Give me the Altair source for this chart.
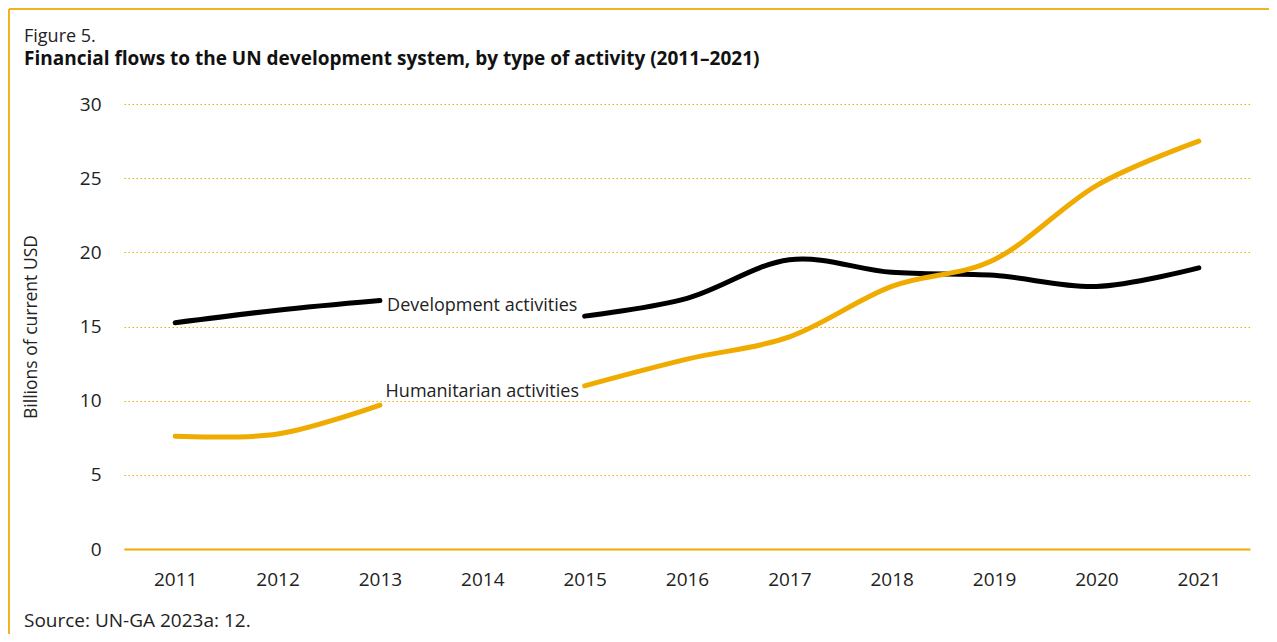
import altair as alt
import pandas as pd

years = [str(y) for y in range(2011, 2022)]
development = [15.25, 16.1, 16.75, None, 15.7, 16.9, 19.5, 18.65, 18.45, 17.7, 18.95]
humanitarian = [7.6, 7.75, 9.7, None, 11.0, 12.8, 14.3, 17.7, 19.5, 24.5, 27.5]
series_names = ["Development activities", "Humanitarian activities"]
label_year = ["2014", "2014"]
label_value = [16.4, 10.6]
figure_label = "Figure 5."
figure_title = "Financial flows to the UN development system, by type of activity (2011\u20132021)"
source_note = "Source: UN-GA 2023a: 12."

ORANGE = "#F0AB00"
W, H = 1126, 445
FS = 18
TICK_FS = 19

rows = []
for name, vals in zip(series_names, [development, humanitarian]):
    for y, v in zip(years, vals):
        rows.append({"year": y, "value": v, "series": name})
df = pd.DataFrame(rows)
labels_df = pd.DataFrame({"year": label_year, "value": label_value, "series": series_names})

x = alt.X("year:O", scale=alt.Scale(type="point", padding=0.5, domain=years),
          axis=alt.Axis(title=None, labelAngle=0, ticks=False, domain=True,
                        domainColor=ORANGE, domainWidth=2, labelPadding=21,
                        labelFontSize=TICK_FS, labelColor="#222", grid=False))
y = alt.Y("value:Q", scale=alt.Scale(domain=[0, 30], nice=False),
          axis=alt.Axis(title="Billions of current USD", values=[0, 5, 10, 15, 20, 25, 30],
                        ticks=False, domain=False, labelPadding=23, labelFontSize=TICK_FS,
                        labelColor="#222", grid=True, gridColor=ORANGE, gridDash=[1.5, 2.5],
                        gridWidth=1, titleFontSize=17.5, titleFontWeight="normal",
                        titleColor="#222", titleX=-93, titleY=H / 2, titleAngle=270,
                        titleBaseline="middle", titleAlign="center"))

lines = alt.Chart(df).mark_line(strokeWidth=5, interpolate="cardinal", strokeCap="round").encode(
    x=x, y=y,
    color=alt.Color("series:N", scale=alt.Scale(domain=series_names, range=["#000000", ORANGE]),
                    legend=None),
    detail="series:N",
)

texts = alt.Chart(labels_df).mark_text(fontSize=FS, color="#222", align="center",
                                       baseline="middle").encode(
    x=alt.X("year:O", scale=alt.Scale(type="point", padding=0.5, domain=years)),
    y=alt.Y("value:Q", scale=alt.Scale(domain=[0, 30], nice=False)),
    text="series:N",
)

one = pd.DataFrame({"a": [0]})
border_top = alt.Chart(one).mark_rule(color="#F2B323", strokeWidth=2, clip=False).encode(
    x=alt.value(-115), x2=alt.value(W + 200), y=alt.value(-95))
border_left = alt.Chart(one).mark_rule(color="#F2B323", strokeWidth=2, clip=False).encode(
    x=alt.value(-115), y=alt.value(-95), y2=alt.value(H + 200))
fig_lbl = alt.Chart(one).mark_text(
    text=figure_label, fontSize=FS, color="#222", align="left", baseline="middle").encode(
    x=alt.value(-100), y=alt.value(-67))
fig_ttl = alt.Chart(one).mark_text(
    text=figure_title, fontSize=19, fontWeight="bold", color="#111", align="left",
    baseline="middle").encode(x=alt.value(-100), y=alt.value(-45))
source = alt.Chart(one).mark_text(
    text=source_note, fontSize=19, color="#222", align="left",
    baseline="middle").encode(x=alt.value(-100), y=alt.value(H + 72))

chart = alt.layer(border_top, border_left, lines, texts, fig_lbl, fig_ttl, source).properties(
    width=W, height=H,
    autosize=alt.AutoSizeParams(type="none"),
    padding={"left": 116, "top": 96, "right": 19, "bottom": 85},
).configure(font="Open Sans").configure_view(stroke=None)

chart.save("out.html", embed_options={"renderer": "svg", "actions": False})
